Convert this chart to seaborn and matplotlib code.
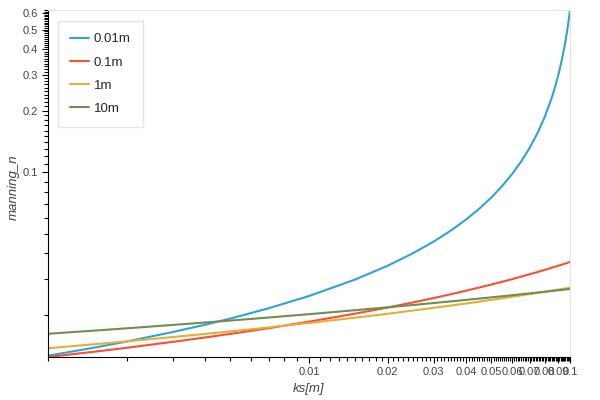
import numpy as np
import pandas as pd
import matplotlib
matplotlib.use('Agg')
import matplotlib.pyplot as plt
import seaborn as sns
from matplotlib.ticker import FixedLocator, FixedFormatter, NullFormatter

# Datos (rugosidad ks y n de Manning por radio hidraulico)
ks = [0.001, 0.0015, 0.002, 0.003, 0.004, 0.005, 0.007, 0.01, 0.015, 0.02,
      0.025, 0.03, 0.035, 0.04, 0.045, 0.05, 0.055, 0.06, 0.065, 0.07,
      0.075, 0.08, 0.085, 0.0875, 0.09, 0.0925, 0.095, 0.0965, 0.098, 0.099, 0.1]

n_001m = [0.01263, 0.01383, 0.01482, 0.01649, 0.01792, 0.01921, 0.02156, 0.02476,
          0.02980, 0.03483, 0.04008, 0.04570, 0.05186, 0.05870, 0.06643, 0.07531,
          0.08567, 0.09798, 0.1129, 0.1314, 0.1551, 0.1865, 0.2303, 0.2595,
          0.2958, 0.3427, 0.4048, 0.4535, 0.5141, 0.5636, 0.6231]
n_01m = [0.01245, 0.01321, 0.01381, 0.01476, 0.01552, 0.01616, 0.01723, 0.01854,
         0.02029, 0.02175, 0.02303, 0.02420, 0.02528, 0.02630, 0.02727, 0.02820,
         0.02909, 0.02996, 0.03081, 0.03164, 0.03245, 0.03325, 0.03404, 0.03443,
         0.03481, 0.03520, 0.03558, 0.03581, 0.03604, 0.03619, 0.03635]
n_1m = [0.01375, 0.01437, 0.01485, 0.01559, 0.01615, 0.01662, 0.01738, 0.01827,
        0.01939, 0.02027, 0.02102, 0.02167, 0.02225, 0.02277, 0.02326, 0.02372,
        0.02414, 0.02455, 0.02493, 0.02530, 0.02565, 0.02598, 0.02630, 0.02646,
        0.02662, 0.02677, 0.02692, 0.02701, 0.02710, 0.02716, 0.02721]
n_10m = [0.01618, 0.01676, 0.01720, 0.01787, 0.01837, 0.01878, 0.01943, 0.02018,
         0.02110, 0.02180, 0.02238, 0.02288, 0.02332, 0.02371, 0.02407, 0.02440,
         0.02470, 0.02499, 0.02526, 0.02551, 0.02575, 0.02598, 0.02620, 0.02631,
         0.02641, 0.02652, 0.02662, 0.02668, 0.02673, 0.02677, 0.02681]

labels = ['0.01m', '0.1m', '1m', '10m']
series = [n_001m, n_01m, n_1m, n_10m]
colors = ['#30a2da', '#fc4f30', '#e5ae38', '#6d904f']

x_ticks = [0.01, 0.02, 0.03, 0.04, 0.05, 0.06, 0.07, 0.08, 0.09, 0.1]
x_tick_labels = ['0.01', '0.02', '0.03', '0.04', '0.05', '0.06', '0.07', '0.08', '0.09', '0.1']
y_ticks = [0.1, 0.2, 0.3, 0.4, 0.5, 0.6]
y_tick_labels = ['0.1', '0.2', '0.3', '0.4', '0.5', '0.6']

# Tabla larga para seaborn
df = pd.concat([pd.DataFrame({'ks': ks, 'n': vals, 'R': lab})
                for lab, vals in zip(labels, series)], ignore_index=True)

sns.set_style('white')
plt.rcParams['font.family'] = ['Liberation Sans', 'DejaVu Sans']

fig = plt.figure(figsize=(6, 4), dpi=100)
ax = fig.add_axes([48 / 600, 43 / 400, 522 / 600, 347 / 400])

sns.lineplot(data=df, x='ks', y='n', hue='R', hue_order=labels,
             palette=colors, linewidth=1.5, ax=ax)

ax.set_xscale('log')
ax.set_yscale('log')
ax.set_xlim(min(ks), max(ks))
ax.set_ylim(min(min(s) for s in series), max(max(s) for s in series))

# Ticks estilo bokeh
ax.xaxis.set_major_locator(FixedLocator(x_ticks))
ax.xaxis.set_major_formatter(FixedFormatter(x_tick_labels))
x_minor = [i / 1000 for i in range(1, 100) if i % 10 != 0]
ax.xaxis.set_minor_locator(FixedLocator(x_minor))
ax.xaxis.set_minor_formatter(NullFormatter())

ax.yaxis.set_major_locator(FixedLocator(y_ticks))
ax.yaxis.set_major_formatter(FixedFormatter(y_tick_labels))
y_minor = [i / 100 for i in range(1, 63) if i % 10 != 0]
ax.yaxis.set_minor_locator(FixedLocator(y_minor))
ax.yaxis.set_minor_formatter(NullFormatter())

ax.tick_params(which='major', direction='out', length=4.3, width=0.8,
               color='black', labelsize=8, labelcolor='#444444', pad=3,
               bottom=True, left=True)
ax.tick_params(which='minor', direction='out', length=2.9, width=0.8,
               color='black', bottom=True, left=True)

for side in ['left', 'bottom']:
    ax.spines[side].set_color('black')
    ax.spines[side].set_linewidth(0.8)
for side in ['top', 'right']:
    ax.spines[side].set_color('#e5e5e5')
    ax.spines[side].set_linewidth(0.8)

ax.set_xlabel('ks[m]', fontsize=9.5, style='italic', color='#444444')
ax.set_ylabel('manning_n', fontsize=9.5, style='italic', color='#444444')
ax.xaxis.set_label_coords(0.5, -0.076)
ax.yaxis.set_label_coords(-0.054, 0.49)

handles, labs = ax.get_legend_handles_labels()
ax.legend(handles, labs, loc='upper left', bbox_to_anchor=(0.019, 0.968),
          borderaxespad=0, frameon=True, fancybox=False, edgecolor='#e5e5e5',
          fontsize=9.5, handlelength=1.4, handletextpad=0.4,
          labelspacing=0.83, borderpad=0.92, framealpha=1)

fig.savefig('out.png', dpi=100)
plt.close(fig)
